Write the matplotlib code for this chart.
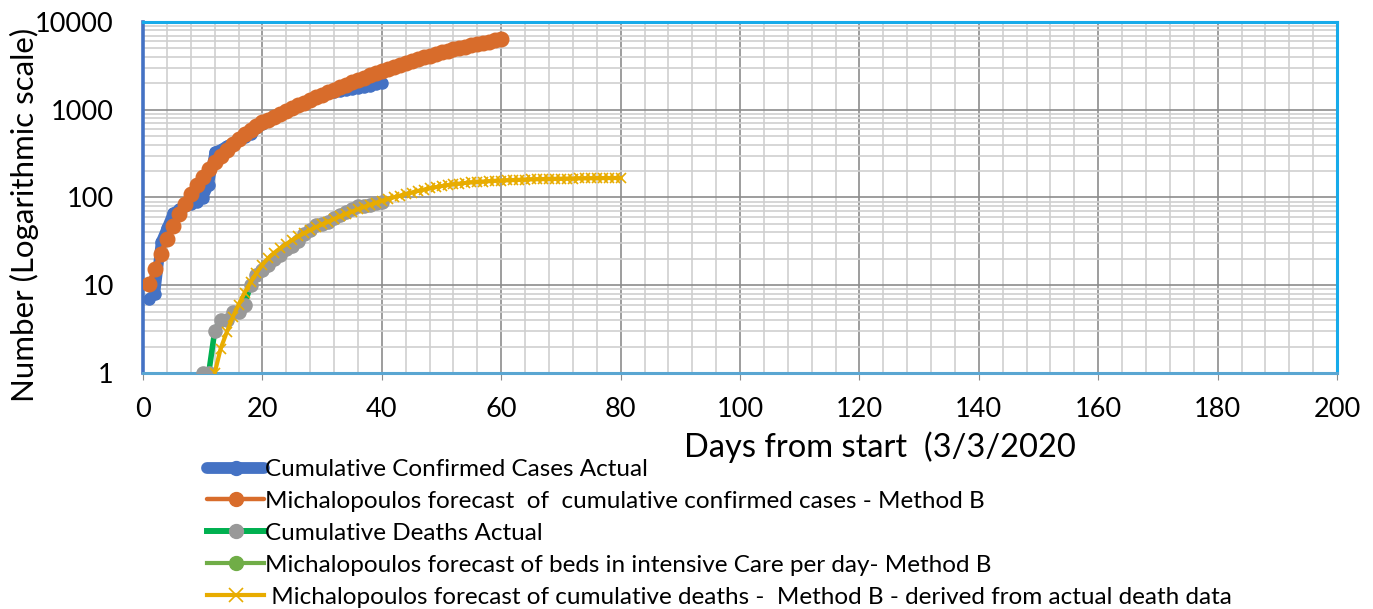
import matplotlib
matplotlib.use("Agg")
import matplotlib.pyplot as plt
from matplotlib.ticker import FixedLocator, NullFormatter, MultipleLocator

plt.rcParams['font.family'] = ['Lato', 'DejaVu Sans']

# ---- data ----
cases_days = list(range(1, 41))
cases_actual = [7, 8, 31, 45, 66, 73, 80, 84, 89, 99,
                140, 330, 352, 387, 418, 464, 495, 530, 624, 695,
                743, 821, 892, 966, 1061, 1156, 1212, 1314, 1400, 1480,
                1550, 1600, 1650, 1700, 1740, 1780, 1830, 1880, 1950, 2011]

fc_days = list(range(1, 61))
fc_cases = [10.3, 15.3, 22.7, 33.4, 47.3, 64.5, 85.1, 111, 140, 173,
            211, 253, 299, 350, 405, 463, 526, 592, 661, 716,
            774, 836, 902, 971, 1045, 1122, 1205, 1291, 1384, 1479,
            1581, 1690, 1803, 1923, 2051, 2188, 2328, 2477, 2630, 2786,
            2944, 3105, 3266, 3436, 3606, 3776, 3954, 4130, 4315, 4498,
            4677, 4864, 5047, 5236, 5420, 5610, 5794, 5984, 6180, 6368]

deaths_days = list(range(10, 41))
deaths_actual = [1, 1, 3, 4, 4, 5, 5, 6, 10, 13,
                 15, 17, 20, 22, 26, 28, 32, 38, 43, 49,
                 50, 53, 59, 63, 68, 73, 79, 81, 83, 86, 90]

beds_days = []
beds_forecast = []

fd_days = list(range(12, 81))
fc_deaths = [1.0, 1.9, 2.9, 4.3, 6.0, 8.2, 10.8, 13.8, 17.2, 20.5,
             23.5, 26.5, 29.5, 32.8, 36, 39.2, 42.5, 46, 49.5, 53,
             57, 61, 65, 69, 73.5, 78, 82.5, 87, 91.5, 96,
             100.5, 105, 109.5, 114, 118.5, 123, 127, 131, 135, 138.5,
             141.5, 144, 146.5, 148.5, 150.5, 152, 153.5, 155, 156, 157,
             158, 159, 160, 160.7, 161.4, 162, 162.6, 163.2, 163.7, 164.2,
             164.6, 165, 165.4, 165.7, 166, 166.3, 166.6, 166.8, 167]

labels = ["Cumulative Confirmed Cases Actual",
          "Michalopoulos forecast  of  cumulative confirmed cases - Method B",
          "Cumulative Deaths Actual",
          "Michalopoulos forecast of beds in intensive Care per day- Method B",
          " Michalopoulos forecast of cumulative deaths -  Method B - derived from actual death data"]

x_ticks = [0, 20, 40, 60, 80, 100, 120, 140, 160, 180, 200]
y_ticks = [1, 10, 100, 1000, 10000]
y_ticklabels = ["1", "10", "100", "1000", "10000"]

# ---- figure ----
fig = plt.figure(figsize=(13.73, 6.09), dpi=100)
ax = fig.add_axes([0.1042, 0.3875, 0.8696, 0.5764])

ax.plot(cases_days, cases_actual, color='#4472C4', lw=7.5, marker='o', ms=8,
        solid_capstyle='round', label=labels[0], zorder=3)
ax.plot(fc_days, fc_cases, color='#D86C2B', lw=4, marker='o', ms=10.5,
        solid_capstyle='round', label=labels[1], zorder=4)
ax.plot(deaths_days, deaths_actual, color='#00B050', lw=4, marker='o', ms=9.5,
        mfc='#999999', mec='#999999', label=labels[2], zorder=5)
ax.plot(beds_days, beds_forecast, color='#70AD47', lw=3, marker='o', ms=10,
        label=labels[3], zorder=5)
ax.plot(fd_days, fc_deaths, color='#E8AC00', lw=3, marker='x', ms=7, mew=1.2,
        label=labels[4], zorder=6)

ax.set_yscale('log')
ax.set_ylim(1, 10000)
ax.set_xlim(0, 200)
ax.set_xticks(x_ticks)
ax.xaxis.set_minor_locator(MultipleLocator(4))
ax.yaxis.set_major_locator(FixedLocator(y_ticks))
ax.set_yticklabels(y_ticklabels)
ax.yaxis.set_minor_formatter(NullFormatter())

ax.grid(which='major', color='#8c8c8c', lw=1.2, zorder=0)
ax.grid(which='minor', color='#cfcfcf', lw=1.2, zorder=0)
ax.set_axisbelow(True)

ax.tick_params(axis='x', which='major', length=5, color='#8c8c8c', labelsize=19.5, pad=12)
ax.tick_params(axis='x', which='minor', length=0)
ax.tick_params(axis='y', which='both', length=0, labelsize=19.5, pad=21)

for side, col, w in [('top', '#17ABEA', 2.2), ('right', '#17ABEA', 2.2),
                     ('bottom', '#5AA6D2', 2.2), ('left', '#4472C4', 2.6)]:
    ax.spines[side].set_color(col)
    ax.spines[side].set_linewidth(w)

ax.set_ylabel("Number (Logarithmic scale)", fontsize=22.5)
ax.yaxis.set_label_coords(-0.087, 0.45)
fig.text(0.641, 0.266, "Days from start  (3/3/2020", fontsize=23.5,
         ha='center', va='center')

leg = ax.legend(loc='upper left', bbox_to_anchor=(207 / 1373, 1 - 459 / 609),
                bbox_transform=fig.transFigure, frameon=False, fontsize=17.5,
                handlelength=2.35, handletextpad=0.05, labelspacing=0.45,
                borderpad=0, borderaxespad=0)
for line, lw in zip(leg.get_lines(), [8.5, 3.2, 4.3, 3.0, 3.0]):
    line.set_linewidth(lw)
    line.set_markersize(10)

fig.savefig("out.png", dpi=100)
